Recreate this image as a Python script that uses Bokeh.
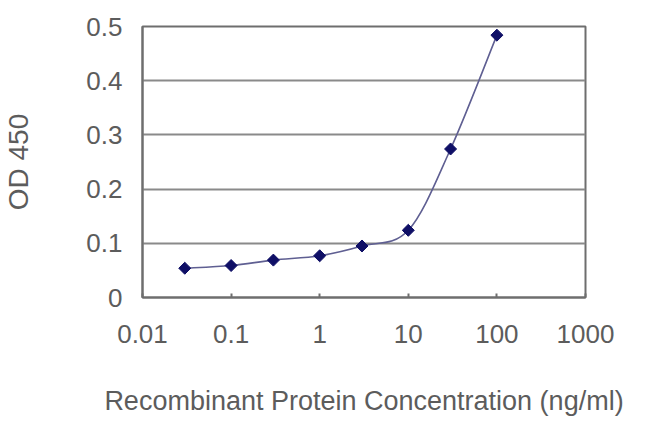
import numpy as np
from bokeh.plotting import figure
from bokeh.models import Range1d, FixedTicker
from bokeh.embed import file_html
from bokeh.resources import INLINE

# ---- data ----
conc = [0.03, 0.1, 0.3, 1, 3, 10, 30, 100]
od450 = [0.054, 0.059, 0.069, 0.077, 0.095, 0.124, 0.274, 0.484]

x_ticks = [0.01, 0.1, 1, 10, 100, 1000]
x_tick_labels = ["0.01", "0.1", "1", "10", "100", "1000"]
y_ticks = [0, 0.1, 0.2, 0.3, 0.4, 0.5]
y_tick_labels = ["0", "0.1", "0.2", "0.3", "0.4", "0.5"]

x_title = "Recombinant Protein Concentration (ng/ml)"
y_title = "OD 450"

FONT = "Liberation Sans"
TEXT = "#5c5c5c"
GRID = "#8a8a8a"
FRAME = "#6e6e6e"

W, H = 634, 418
p = figure(width=W, height=H, x_axis_type="log",
           x_range=Range1d(x_ticks[0], x_ticks[-1]),
           y_range=Range1d(y_ticks[0], y_ticks[-1]),
           output_backend="svg", toolbar_location=None,
           min_border_left=142, min_border_right=49,
           min_border_top=26, min_border_bottom=120)

p.background_fill_color = "white"
p.border_fill_color = "white"
p.outline_line_color = FRAME
p.outline_line_width = 2

# axes
p.xaxis.ticker = FixedTicker(ticks=x_ticks)
p.xaxis.major_label_overrides = dict(zip(x_ticks, x_tick_labels))
p.yaxis.ticker = FixedTicker(ticks=y_ticks)
p.yaxis.major_label_overrides = dict(zip(y_ticks, y_tick_labels))

for ax in (p.xaxis, p.yaxis):
    ax.axis_line_color = FRAME
    ax.axis_line_width = 2
    ax.major_tick_line_color = FRAME
    ax.major_tick_line_width = 2
    ax.major_tick_out = 0
    ax.minor_tick_line_color = None
    ax.major_label_text_font = FONT
    ax.major_label_text_font_size = "26px"
    ax.major_label_text_color = TEXT
    ax.axis_label_text_font = FONT
    ax.axis_label_text_font_style = "normal"
    ax.axis_label_text_color = TEXT

p.xaxis.major_tick_in = 4
p.yaxis.major_tick_in = 0
p.xaxis.major_label_standoff = 27
p.yaxis.major_label_standoff = 20

p.xaxis.axis_label = x_title
p.xaxis.axis_label_text_font_size = "27px"
p.xaxis.axis_label_standoff = 40

p.yaxis.axis_label = y_title
p.yaxis.axis_label_text_font_size = "28px"
p.yaxis.axis_label_standoff = 49

p.xgrid.grid_line_color = None
p.ygrid.grid_line_color = GRID
p.ygrid.grid_line_width = 2

# smoothed connecting line (Excel-style Catmull-Rom Bezier in log-x space)
lx = np.log10(np.array(conc, dtype=float))
yy = np.array(od450, dtype=float)
n = len(lx)
x0, y0, x1, y1, cx0, cy0, cx1, cy1 = ([] for _ in range(8))
for i in range(n - 1):
    i0 = max(i - 1, 0)
    i3 = min(i + 2, n - 1)
    x0.append(10 ** lx[i]); y0.append(yy[i])
    x1.append(10 ** lx[i + 1]); y1.append(yy[i + 1])
    cx0.append(10 ** (lx[i] + (lx[i + 1] - lx[i0]) / 6))
    cy0.append(yy[i] + (yy[i + 1] - yy[i0]) / 6)
    cx1.append(10 ** (lx[i + 1] - (lx[i3] - lx[i]) / 6))
    cy1.append(yy[i + 1] - (yy[i3] - yy[i]) / 6)

p.bezier(x0=x0, y0=y0, x1=x1, y1=y1, cx0=cx0, cy0=cy0, cx1=cx1, cy1=cy1,
         line_color="#5f5f92", line_width=1.6)

p.scatter(conc, od450, marker="square", angle=np.pi / 4, size=8.5,
          fill_color="#0f0f66", line_color="#0f0f66")

open("out.html", "w").write(file_html(p, INLINE))
